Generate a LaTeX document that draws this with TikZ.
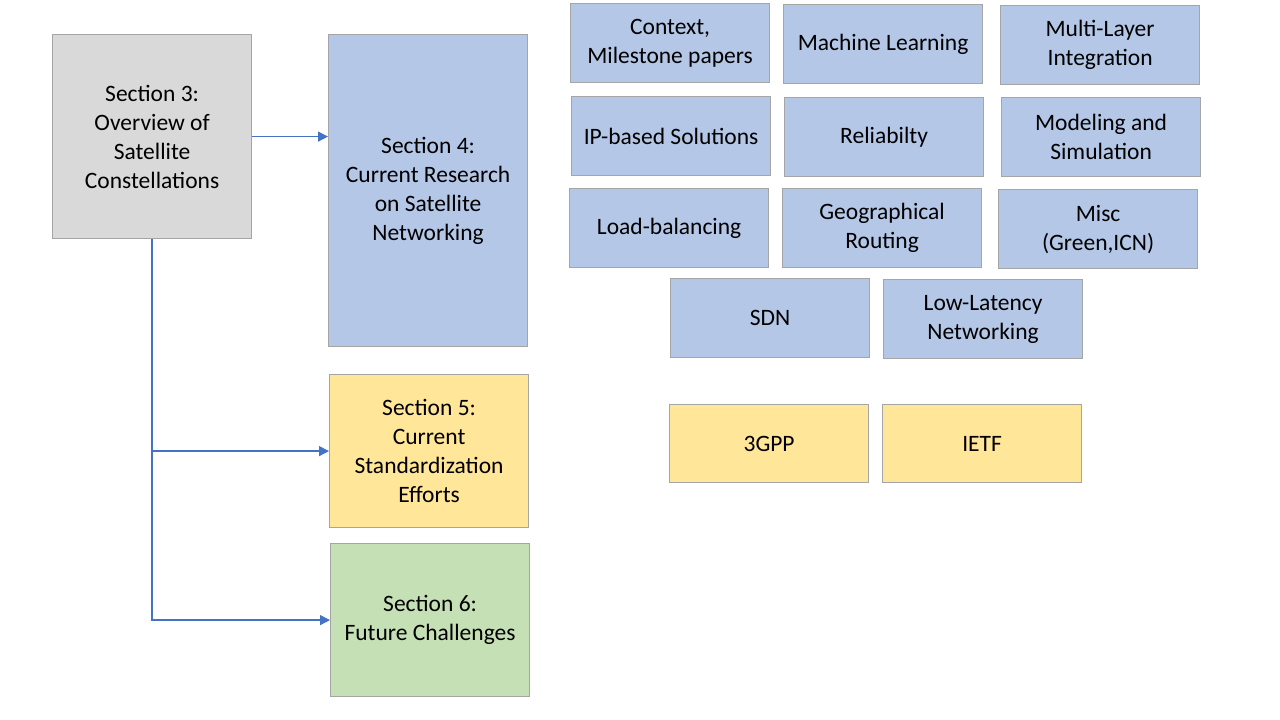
\documentclass[tikz,border=0pt]{standalone}
\usepackage{fontspec}
\setmainfont{Carlito}
\usetikzlibrary{arrows.meta}
\definecolor{bxgray}{HTML}{D9D9D9}
\definecolor{bxblue}{HTML}{B4C7E7}
\definecolor{bxyellow}{HTML}{FFE699}
\definecolor{bxgreen}{HTML}{C5E0B4}
\definecolor{bxborder}{HTML}{A5A5A5}
\definecolor{arrblue}{HTML}{4472C4}
\tikzset{
  box/.style={draw=bxborder, line width=1.2pt, anchor=north west, align=center,
    inner sep=2pt, minimum width=199pt, font=\fontsize{23.5}{29}\selectfont, text=black},
  small/.style={box, minimum height=79pt},
  arr/.style={draw=arrblue, line width=1.3pt, -{Triangle[length=10pt,width=10pt]}},
}
\begin{document}
\begin{tikzpicture}[x=1pt,y=-1pt]
\useasboundingbox (0,0) rectangle (1280,720);
\node[box, fill=bxgray, minimum height=204pt] (s3) at (52,34) {Section 3:\\Overview of\\Satellite\\Constellations};
\node[box, fill=bxblue, minimum height=312pt] (s4) at (328,34) {Section 4:\\Current Research\\on Satellite\\Networking};
\node[box, fill=bxyellow, minimum height=153pt] (s5) at (329,374) {Section 5:\\Current\\Standardization\\Efforts};
\node[box, fill=bxgreen, minimum height=153pt] (s6) at (330,543) {Section 6:\\Future Challenges};

\node[small, fill=bxblue] (ctx) at (570,3) {Context,\\Milestone papers};
\node[small, fill=bxblue] (ml) at (783,4) {Machine Learning};
\node[small, fill=bxblue] (mli) at (1000,5) {Multi-Layer\\Integration};
\node[small, fill=bxblue] (ip) at (571,96) {IP-based Solutions};
\node[small, fill=bxblue] (rel) at (784,97) {Reliabilty};
\node[small, fill=bxblue] (mod) at (1001,97) {Modeling and\\Simulation};
\node[small, fill=bxblue] (lb) at (569,188) {Load-balancing};
\node[small, fill=bxblue] (geo) at (782,188) {Geographical\\Routing};
\node[small, fill=bxblue] (misc) at (998,189) {Misc\\(Green,ICN)};
\node[small, fill=bxblue] (sdn) at (670,278) {SDN};
\node[small, fill=bxblue] (ll) at (883,279) {Low-Latency\\Networking};
\node[small, fill=bxyellow, minimum height=78pt] (gpp) at (669,404) {3GPP};
\node[small, fill=bxyellow, minimum height=78pt] (ietf) at (882,404) {IETF};

\draw[arr] (s3.east) -- (s4.west |- s3.east);
\draw[arr] (s3.south) |- (s5.west);
\draw[arr] (s3.south) |- (s6.west);
\end{tikzpicture}
\end{document}
